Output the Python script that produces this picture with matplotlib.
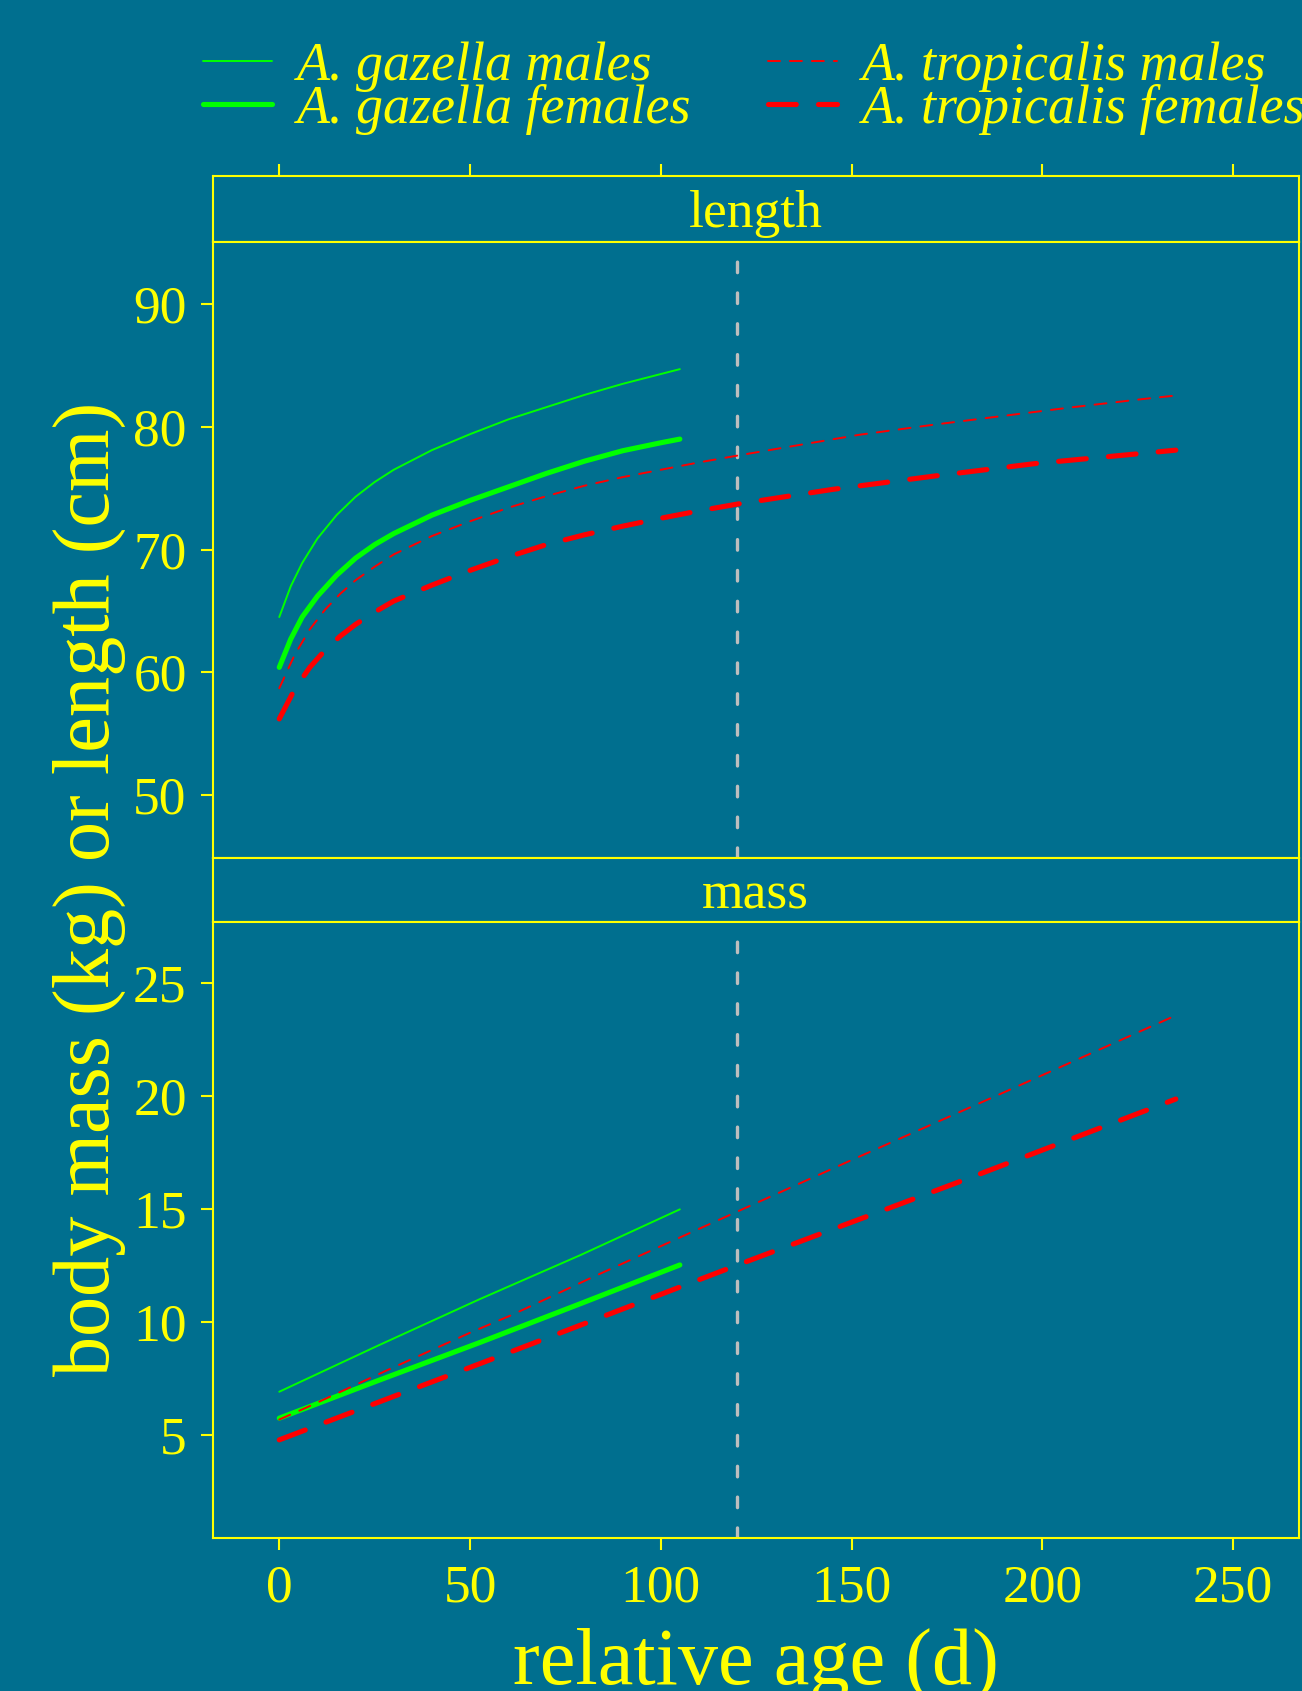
import matplotlib
matplotlib.use('Agg')
import matplotlib.pyplot as plt

# ---------------- data ----------------
# length panel (cm)
gaz_m_len_x = [0, 3, 6, 10, 15, 20, 25, 30, 40, 50, 60, 70, 80, 90, 100, 105]
gaz_m_len_y = [64.5, 67.0, 68.9, 70.9, 72.8, 74.3, 75.5, 76.5, 78.1, 79.4, 80.6, 81.6, 82.6, 83.5, 84.3, 84.7]
gaz_f_len_x = [0, 3, 6, 10, 15, 20, 25, 30, 40, 50, 60, 70, 80, 90, 100, 105]
gaz_f_len_y = [60.4, 62.7, 64.5, 66.2, 67.9, 69.3, 70.4, 71.3, 72.8, 74.0, 75.1, 76.2, 77.2, 78.05, 78.7, 79.0]
tro_m_len_x = [0, 4, 8, 12, 16, 20, 25, 30, 40, 50, 60, 70, 80, 90, 100, 110, 120, 135, 152, 171, 190, 208, 226, 235]
tro_m_len_y = [58.7, 61.4, 63.5, 65.1, 66.4, 67.5, 68.6, 69.6, 71.1, 72.3, 73.4, 74.35, 75.2, 75.9, 76.5, 77.1, 77.65,
               78.45, 79.35, 80.15, 80.9, 81.6, 82.25, 82.55]
tro_f_len_x = [0, 4, 8, 12, 16, 20, 25, 30, 40, 50, 60, 70, 80, 90, 100, 110, 120, 145, 172, 198, 225, 235]
tro_f_len_y = [56.2, 58.6, 60.4, 61.8, 62.95, 63.9, 64.9, 65.8, 67.1, 68.3, 69.4, 70.4, 71.2, 71.9, 72.55, 73.15,
               73.7, 74.9, 76.0, 77.0, 77.8, 78.1]

# mass panel (kg)
gaz_m_mass_x = [0, 26, 52.6, 79, 105]
gaz_m_mass_y = [6.9, 8.95, 11.0, 12.95, 14.97]
gaz_f_mass_x = [0, 26, 52.6, 79, 105]
gaz_f_mass_y = [5.73, 7.4, 9.08, 10.8, 12.51]
tro_m_mass_x = [0, 7, 28, 50, 61, 82, 106, 150, 190, 235]
tro_m_mass_y = [5.67, 6.19, 7.83, 9.51, 10.3, 11.96, 13.8, 17.15, 20.15, 23.55]
tro_f_mass_x = [0, 53.5, 120, 180, 235]
tro_f_mass_y = [4.77, 8.2, 12.5, 16.3, 19.85]

series_labels = ['A. gazella males', 'A. gazella females',
                 'A. tropicalis males', 'A. tropicalis females']
panel_names = ['length', 'mass']
ref_age = 120

x_ticks = [0, 50, 100, 150, 200, 250]
len_ticks = [50, 60, 70, 80, 90]
mass_ticks = [5, 10, 15, 20, 25]
x_lim = (-17.5, 267.3)
len_lim = (44.9, 95.1)
mass_lim = (0.42, 27.67)

# ---------------- style ----------------
BG = '#006F8F'
FG = '#FFFF00'
GREEN = '#00FF00'
RED = '#FF0000'
FS = 38.5
plt.rcParams['font.family'] = ['Liberation Serif', 'DejaVu Serif']
plt.rcParams['lines.scale_dashes'] = False

styles = [
    dict(color=GREEN, lw=1.4, ls='-', solid_capstyle='round', solid_joinstyle='round'),
    dict(color=GREEN, lw=3.7, ls='-', solid_capstyle='round', solid_joinstyle='round'),
    dict(color=RED, lw=1.4, dashes=(8.6, 7.2), dash_capstyle='round', dash_joinstyle='round'),
    dict(color=RED, lw=3.7, dashes=(20, 16), dash_capstyle='round', dash_joinstyle='round'),
]

W, H = 1302, 1691
fig = plt.figure(figsize=(W / 100, H / 100), dpi=100, facecolor=BG)


def fy(p):
    return 1 - p / H


L, Rr = 212.5 / W, 1299 / W
wid = Rr - L
ax_s1 = fig.add_axes([L, fy(241.5), wid, fy(176) - fy(241.5)])
ax_len = fig.add_axes([L, fy(857.6), wid, fy(241.5) - fy(857.6)])
ax_s2 = fig.add_axes([L, fy(922.3), wid, fy(857.6) - fy(922.3)])
ax_mass = fig.add_axes([L, fy(1538.2), wid, fy(922.3) - fy(1538.2)])

for ax in (ax_s1, ax_len, ax_s2, ax_mass):
    ax.set_facecolor(BG)
    ax.set_xlim(*x_lim)
    for sp in ax.spines.values():
        sp.set_color(FG)
        sp.set_linewidth(1.5)
    ax.tick_params(colors=FG, width=1.5, length=8.6, direction='out',
                   labelsize=FS, pad=10)

# strips
for ax, name in ((ax_s1, panel_names[0]), (ax_s2, panel_names[1])):
    ax.set_ylim(0, 1)
    ax.set_yticks([])
    ax.text(0.5, 0.42, name, transform=ax.transAxes, ha='center', va='center',
            color=FG, fontsize=FS)
ax_s1.set_xticks(x_ticks)
ax_s1.tick_params(axis='x', bottom=False, labelbottom=False, top=True, labeltop=False)
ax_s2.set_xticks([])

# panels
len_data = [(gaz_m_len_x, gaz_m_len_y), (gaz_f_len_x, gaz_f_len_y),
            (tro_m_len_x, tro_m_len_y), (tro_f_len_x, tro_f_len_y)]
mass_data = [(gaz_m_mass_x, gaz_m_mass_y), (gaz_f_mass_x, gaz_f_mass_y),
             (tro_m_mass_x, tro_m_mass_y), (tro_f_mass_x, tro_f_mass_y)]

handles = []
for (x, y), st, lab in zip(len_data, styles, series_labels):
    ln, = ax_len.plot(x, y, label=lab, **st)
    handles.append(ln)
for (x, y), st in zip(mass_data, styles):
    ax_mass.plot(x, y, **st)

for ax in (ax_len, ax_mass):
    ax.axvline(ref_age, color='#BEBEBE', lw=2.4, dashes=(7.6, 14.6),
               dash_capstyle='round', zorder=0.5)

ax_len.set_ylim(*len_lim)
ax_len.set_yticks(len_ticks)
ax_len.set_xticks([])
ax_mass.set_ylim(*mass_lim)
ax_mass.set_yticks(mass_ticks)
ax_mass.set_xticks(x_ticks)

# axis labels
fig.text(89 / W, fy(888.5), 'body mass (kg) or length (cm)', rotation=90,
         ha='center', va='center', color=FG, fontsize=FS * 1.5)
fig.text((L + Rr) / 2, fy(1684), 'relative age (d)', ha='center', va='baseline',
         color=FG, fontsize=FS * 1.5)

# legend
fig.legend(handles=handles, labels=series_labels, ncol=2, loc='center left',
           bbox_to_anchor=(202.8 / W, fy(88)), frameon=False,
           prop=dict(family='Liberation Serif', style='italic', size=38.9),
           labelcolor=FG, handlelength=1.28, handletextpad=0.46,
           columnspacing=1.42, labelspacing=-0.15, borderpad=0, borderaxespad=0)

fig.savefig('out.png', dpi=100, facecolor=BG)
